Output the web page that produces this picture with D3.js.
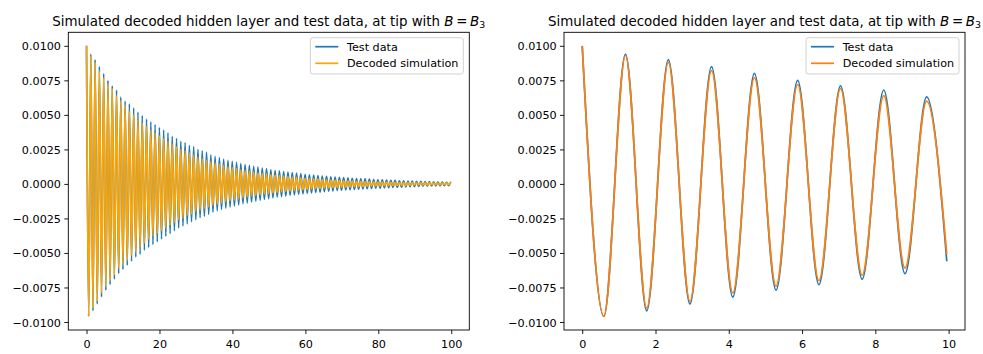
<!DOCTYPE html>
<html><head><meta charset="utf-8">
<script src="https://cdn.jsdelivr.net/npm/d3@7"></script>
<style>body{margin:0;background:#fff}svg{display:block}text{font-family:"DejaVu Sans",sans-serif;fill:#000}</style>
</head><body><svg id="chart" width="983" height="354"></svg>
<script>
// Times of the successive extrema (peaks / troughs), plus the last sample
const timeValues = [0,0.59,1.18,1.76,2.35,2.94,3.53,4.11,4.70,5.29,5.88,6.46,7.05,7.64,8.23,8.81,9.40,9.99,10.58,11.16,
11.75,12.34,12.93,13.51,14.10,14.69,15.28,15.86,16.45,17.04,17.63,18.21,18.80,19.39,19.98,20.56,21.15,21.74,22.33,22.91,
23.50,24.09,24.68,25.26,25.85,26.44,27.03,27.61,28.20,28.79,29.38,29.96,30.55,31.14,31.73,32.31,32.90,33.49,34.08,34.66,
35.25,35.84,36.43,37.01,37.60,38.19,38.78,39.36,39.95,40.54,41.13,41.71,42.30,42.89,43.48,44.06,44.65,45.24,45.83,46.41,
47.00,47.59,48.18,48.76,49.35,49.94,50.53,51.11,51.70,52.29,52.88,53.46,54.05,54.64,55.23,55.81,56.40,56.99,57.58,58.16,
58.75,59.34,59.93,60.51,61.10,61.69,62.28,62.86,63.45,64.04,64.63,65.21,65.80,66.39,66.98,67.56,68.15,68.74,69.33,69.91,
70.50,71.09,71.68,72.26,72.85,73.44,74.03,74.61,75.20,75.79,76.38,76.96,77.55,78.14,78.73,79.31,79.90,80.49,81.08,81.66,
82.25,82.84,83.43,84.01,84.60,85.19,85.78,86.36,86.95,87.54,88.13,88.71,89.30,89.89,90.48,91.06,91.65,92.24,92.83,93.41,
94.00,94.59,95.18,95.76,96.35,96.94,97.53,98.11,98.70,99.29,99.88,99.95];

const testValues = [0.0100,-0.0096,0.0094,-0.0092,0.0090,-0.0087,0.0085,-0.0082,0.0080,-0.0077,0.0075,-0.0073,0.0071,-0.0069,0.0068,-0.0065,0.0063,-0.0062,0.0060,-0.0059,
0.0058,-0.0056,0.0055,-0.0053,0.0052,-0.0051,0.00495,-0.0048,0.0047,-0.0046,0.0045,-0.0044,0.0043,-0.0042,0.0041,-0.0040,0.0039,-0.0038,0.0037,-0.0036,
0.00345,-0.0034,0.0033,-0.0032,0.0031,-0.00305,0.0030,-0.0029,0.0028,-0.00275,0.0027,-0.0026,0.0025,-0.00245,0.0024,-0.00235,0.0023,-0.0022,0.0021,-0.00205,
0.0020,-0.00195,0.0019,-0.00185,0.0018,-0.00175,0.0017,-0.00167,0.00163,-0.0016,0.00157,-0.00152,0.00148,-0.00143,0.0014,-0.00137,0.00134,-0.0013,0.00127,-0.00124,
0.00121,-0.00118,0.00115,-0.00112,0.0011,-0.00107,0.00104,-0.00101,0.00099,-0.00096,0.00094,-0.00092,0.0009,-0.00088,0.00086,-0.00084,0.00082,-0.0008,0.00078,-0.00076,
0.00074,-0.00072,0.0007,-0.00068,0.00066,-0.00065,0.00063,-0.00062,0.0006,-0.00059,0.00057,-0.00056,0.00055,-0.00053,0.00052,-0.00051,0.0005,-0.00048,0.00047,-0.00046,
0.00045,-0.00044,0.00043,-0.00042,0.00041,-0.0004,0.00039,-0.00038,0.00037,-0.00036,0.00036,-0.00035,0.00034,-0.00033,0.00032,-0.00031,0.0003,-0.0003,0.00029,-0.00028,
0.00028,-0.00027,0.00026,-0.00025,0.00025,-0.00024,0.00023,-0.00023,0.00022,-0.00021,0.00021,-0.0002,0.0002,-0.00019,0.00019,-0.00018,0.00018,-0.00017,0.00017,-0.00016,
0.00016,-0.00015,0.00015,-0.00014,0.00014,-0.00014,0.00013,-0.00013,0.00012,-0.00012,0.00012,0.00011];

const simValues = [0.0100,-0.0096,0.0093,-0.0090,0.0088,-0.0085,0.0082,-0.0079,0.0077,-0.0074,0.0072,-0.0070,0.0069,-0.0066,0.0064,-0.0061,0.0060,-0.0058,0.0057,-0.0055,
0.0053,-0.0052,0.0050,-0.0049,0.0047,-0.0046,0.0044,-0.0043,0.0042,-0.0040,0.0039,-0.0038,0.0037,-0.0036,0.0035,-0.0034,0.0033,-0.0032,0.0031,-0.0030,
0.0029,-0.0028,0.0027,-0.0026,0.0025,-0.0025,0.0024,-0.0023,0.00225,-0.0022,0.0021,-0.0020,0.00196,-0.0019,0.00184,-0.00178,0.00172,-0.00167,0.00162,-0.00157,
0.00152,-0.00147,0.00143,-0.00138,0.00134,-0.0013,0.00126,-0.00122,0.00118,-0.00115,0.00111,-0.00108,0.00104,-0.00101,0.00098,-0.00095,0.00092,-0.00089,0.00087,-0.00084,
0.00081,-0.00079,0.00076,-0.00074,0.00072,-0.0007,0.00068,-0.00066,0.00064,-0.00062,0.0006,-0.00058,0.00056,-0.00054,0.00053,-0.00051,0.0005,-0.00048,0.00047,-0.00045,
0.00044,-0.00042,0.00041,-0.0004,0.00039,-0.00037,0.00036,-0.00035,0.00034,-0.00033,0.00032,-0.00031,0.0003,-0.00029,0.00028,-0.00027,0.00026,-0.00026,0.00025,-0.00024,
0.00023,-0.00023,0.00022,-0.00021,0.00021,-0.0002,0.00019,-0.00019,0.00018,-0.00018,0.00017,-0.00017,0.00016,-0.00016,0.00015,-0.00015,0.00014,-0.00014,0.00013,-0.00013,
0.00013,-0.00012,0.00012,-0.00011,0.00011,-0.00011,0.0001,-0.0001,0.0001,-0.0001,0.00009,-0.00009,0.00009,-0.00008,0.00008,-0.00008,0.00008,-0.00007,0.00007,-0.00007,
0.00007,-0.00006,0.00006,-0.00006,0.00006,-0.00006,0.00005,-0.00005,0.00005,-0.00005,0.00005,0.00004];

// Zoomed panel: extrema up to t = 9.40, then the last plotted sample
const zoomLastIndex = 16;
const zoomEndTime = 9.95;
const zoomEndTest = -0.0056;
const zoomEndSim = -0.0051;

const seriesNames = ["Test data", "Decoded simulation"];
const leftXTicks = [0, 20, 40, 60, 80, 100];
const rightXTicks = [0, 2, 4, 6, 8, 10];
const yTicks = [-0.0100, -0.0075, -0.0050, -0.0025, 0.0000, 0.0025, 0.0050, 0.0075, 0.0100];
const titleMain = "Simulated decoded hidden layer and test data, at tip with ";

const svg = d3.select("#chart");
const tickFont = 11.2, titleFont = 13.4;

function panel(cfg) {
  const {x0, x1, y0, y1, times, test, sim, xTicks, colors, id} = cfg;
  const xExt = d3.extent(times);
  const xPad = (xExt[1] - xExt[0]) * 0.05;
  const x = d3.scaleLinear().domain([xExt[0] - xPad, xExt[1] + xPad]).range([x0, x1]);
  const yExt = d3.extent(test.concat(sim));
  const yPad = (yExt[1] - yExt[0]) * 0.05;
  const y = d3.scaleLinear().domain([yExt[0] - yPad, yExt[1] + yPad]).range([y1, y0]);

  const g = svg.append("g");
  svg.append("clipPath").attr("id", "clip" + id).append("rect")
    .attr("x", x0).attr("y", y0).attr("width", x1 - x0).attr("height", y1 - y0);

  const line = d3.line().x(d => x(d[0])).y(d => y(d[1])).curve(d3.curveMonotoneX);
  const lg = g.append("g").attr("clip-path", `url(#clip${id})`);
  [test, sim].forEach((vals, i) => {
    lg.append("path")
      .attr("d", line(times.map((t, j) => [t, vals[j]])))
      .attr("fill", "none").attr("stroke", colors[i]).attr("stroke-width", 1.7)
      .attr("stroke-linejoin", "round");
  });

  // axes
  const ax = g.append("g").attr("transform", `translate(0,${y1})`)
    .call(d3.axisBottom(x).tickValues(xTicks).tickFormat(d3.format("d")).tickSize(4).tickPadding(6.5).tickSizeOuter(0));
  const ay = g.append("g").attr("transform", `translate(${x0},0)`)
    .call(d3.axisLeft(y).tickValues(yTicks).tickFormat(d3.format(".4f")).tickSize(4).tickPadding(3.3).tickSizeOuter(0));
  [ax, ay].forEach(a => {
    a.select(".domain").remove();
    a.attr("font-family", null).attr("font-size", null);
    a.selectAll("line").attr("stroke", "#000").attr("stroke-width", 0.9);
    a.selectAll("text").attr("font-size", tickFont).attr("fill", "#000")
      .style("font-family", "'DejaVu Sans', sans-serif");
  });
  ay.selectAll("text").attr("dy", "0.36em");

  g.append("rect").attr("x", x0).attr("y", y0).attr("width", x1 - x0).attr("height", y1 - y0)
    .attr("fill", "none").attr("stroke", "#000").attr("stroke-width", 0.9);

  // title
  const tt = g.append("text").attr("x", (x0 + x1) / 2).attr("y", y0 - 6.8)
    .attr("text-anchor", "middle").attr("font-size", titleFont);
  tt.append("tspan").text(titleMain);
  tt.append("tspan").attr("font-style", "italic").text("B");
  tt.append("tspan").text("\u2009=\u2009");
  tt.append("tspan").attr("font-style", "italic").text("B");
  tt.append("tspan").attr("font-size", titleFont * 0.7).attr("dy", 2.5).text("3");

  // legend
  const lw = 153, lh = 36.3;
  const lx = x1 - 6 - lw, ly = y0 + 5.4;
  const leg = g.append("g");
  leg.append("rect").attr("x", lx).attr("y", ly).attr("width", lw).attr("height", lh)
    .attr("rx", 2.5).attr("fill", "#fff").attr("fill-opacity", 0.8)
    .attr("stroke", "#cccccc").attr("stroke-width", 0.9);
  seriesNames.forEach((name, i) => {
    const ry = ly + 9 + i * 16.6;
    leg.append("line").attr("x1", lx + 5).attr("x2", lx + 28).attr("y1", ry).attr("y2", ry)
      .attr("stroke", colors[i]).attr("stroke-width", 1.7);
    leg.append("text").attr("x", lx + 36.7).attr("y", ry + 4).attr("font-size", tickFont).text(name);
  });
}

panel({id: "L", x0: 68.3, x1: 469.3, y0: 32.3, y1: 330,
  times: timeValues, test: testValues, sim: simValues,
  xTicks: leftXTicks, colors: ["#1f77b4", "#ffa500"]});

panel({id: "R", x0: 564, x1: 965, y0: 32.3, y1: 330,
  times: timeValues.slice(0, zoomLastIndex + 1).concat([zoomEndTime]),
  test: testValues.slice(0, zoomLastIndex + 1).concat([zoomEndTest]),
  sim: simValues.slice(0, zoomLastIndex + 1).concat([zoomEndSim]),
  xTicks: rightXTicks, colors: ["#1f77b4", "#ff7f0e"]});
</script></body></html>
